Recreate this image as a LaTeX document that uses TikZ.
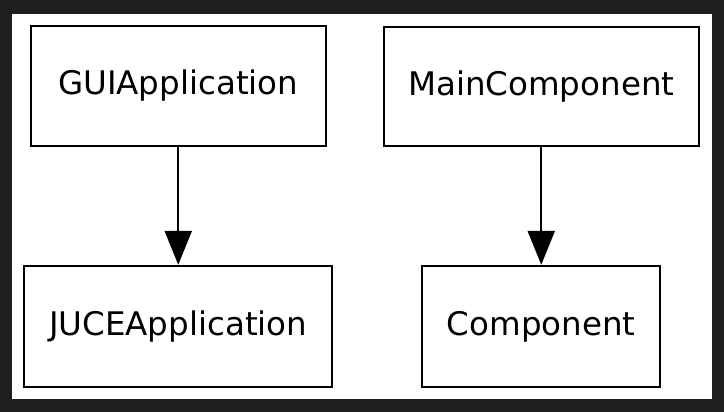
\documentclass[tikz,border=0pt]{standalone}
\usepackage{fontspec}
\setmainfont{DejaVu Sans}
\definecolor{frame}{HTML}{1D1E20}
\usetikzlibrary{arrows.meta, positioning}

\begin{document}
\begin{tikzpicture}[
    x=1pt, y=-1pt,
    box/.style={rectangle, draw=black, line width=2.4pt, fill=white,
        inner sep=0pt, font=\fontsize{32.5}{38}\selectfont},
    arr/.style={-{Triangle[length=34pt, width=27pt]}, line width=2.4pt, black}
]
\useasboundingbox (0,0) rectangle (724,412);
\fill[frame] (0,0) rectangle (724,412);
\fill[white] (12,14) rectangle (712,399);

\node[box, minimum width=295pt, minimum height=120pt] (gui) at (178.25,86) {GUIApplication};
\node[box, minimum width=315pt, minimum height=119pt] (main) at (541.25,86.5) {MainComponent};
\node[box, minimum width=308pt, minimum height=121pt] (juce) at (178.25,326.5) {JUCEApplication};
\node[box, minimum width=238pt, minimum height=121pt] (comp) at (541.25,326.5) {Component};

\draw[arr] (gui) -- (juce);
\draw[arr] (main) -- (comp);
\end{tikzpicture}
\end{document}
